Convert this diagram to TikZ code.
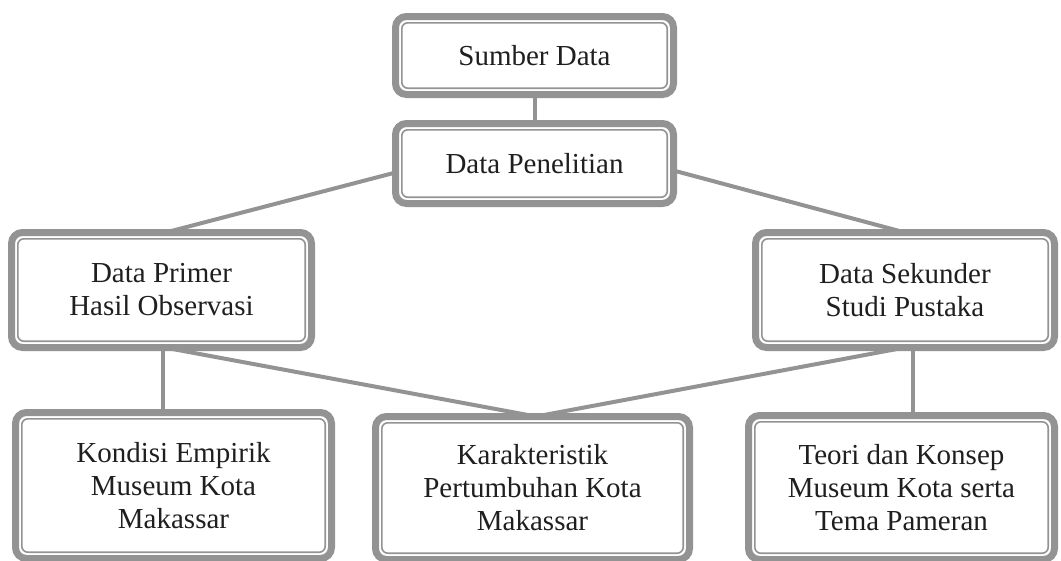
\documentclass[tikz,border=0pt]{standalone}
\usepackage{fontspec}
\setmainfont{Liberation Serif}
\definecolor{boxgray}{RGB}{147,147,147}
\begin{document}
\begin{tikzpicture}[x=1pt,y=-1pt,
    box/.style={draw=boxgray,line width=7pt,rounded corners=11pt,fill=white,
      outer sep=0pt,inner sep=0pt,align=center,text=black!88,
      font=\fontsize{29}{33}\selectfont},
    inbox/.style={draw=boxgray,line width=1.6pt,rounded corners=6pt},
    link/.style={draw=boxgray,line width=4pt}]
  \clip (0,0) rectangle (1061,560); %batas gambar
  \node[box,minimum width=278pt,minimum height=78pt] (sumber) at (534.5,55.5) {Sumber Data};
  \node[box,minimum width=278pt,minimum height=80pt] (penelitian) at (534.5,163.5) {Data Penelitian};
  \node[box,minimum width=300pt,minimum height=115pt] (primer) at (161.5,290) {Data Primer\\Hasil Observasi};
  \node[box,minimum width=299pt,minimum height=115pt] (sekunder) at (905,290) {Data Sekunder\\Studi Pustaka};
  \node[box,minimum width=316pt,minimum height=146pt] (kondisi) at (173.5,485.5) {Kondisi Empirik\\Museum Kota\\Makassar};
  \node[box,minimum width=314pt,minimum height=143pt] (karakter) at (532.5,488) {Karakteristik\\Pertumbuhan Kota\\Makassar};
  \node[box,minimum width=306pt,minimum height=144pt] (teori) at (901.5,487.5) {Teori dan Konsep\\Museum Kota serta\\Tema Pameran};
  % garis dalam tiap kotak
  \foreach \n in {sumber,penelitian,primer,sekunder,kondisi,karakter,teori}
    \draw[inbox] ([shift={(6.3,6.3)}]\n.north west) rectangle ([shift={(-6.3,-6.3)}]\n.south east);
  % penghubung
  \draw[link] (sumber.south) -- (penelitian.north);
  \draw[link] ([yshift=-9pt]penelitian.west) -- ([xshift=4pt]primer.north);
  \draw[link] ([yshift=-7pt]penelitian.east) -- (sekunder.north);
  \draw[link] ([xshift=1.5pt]primer.south) -- ([xshift=1.5pt]primer.south |- kondisi.north);
  \draw[link] ([xshift=8pt]sekunder.south) -- ([xshift=8pt]sekunder.south |- teori.north);
  \draw[link] ([xshift=3pt]primer.south) -- ([xshift=3.5pt]karakter.north);
  \draw[link] (sekunder.south) -- ([xshift=3.5pt]karakter.north);
\end{tikzpicture}
\end{document}
